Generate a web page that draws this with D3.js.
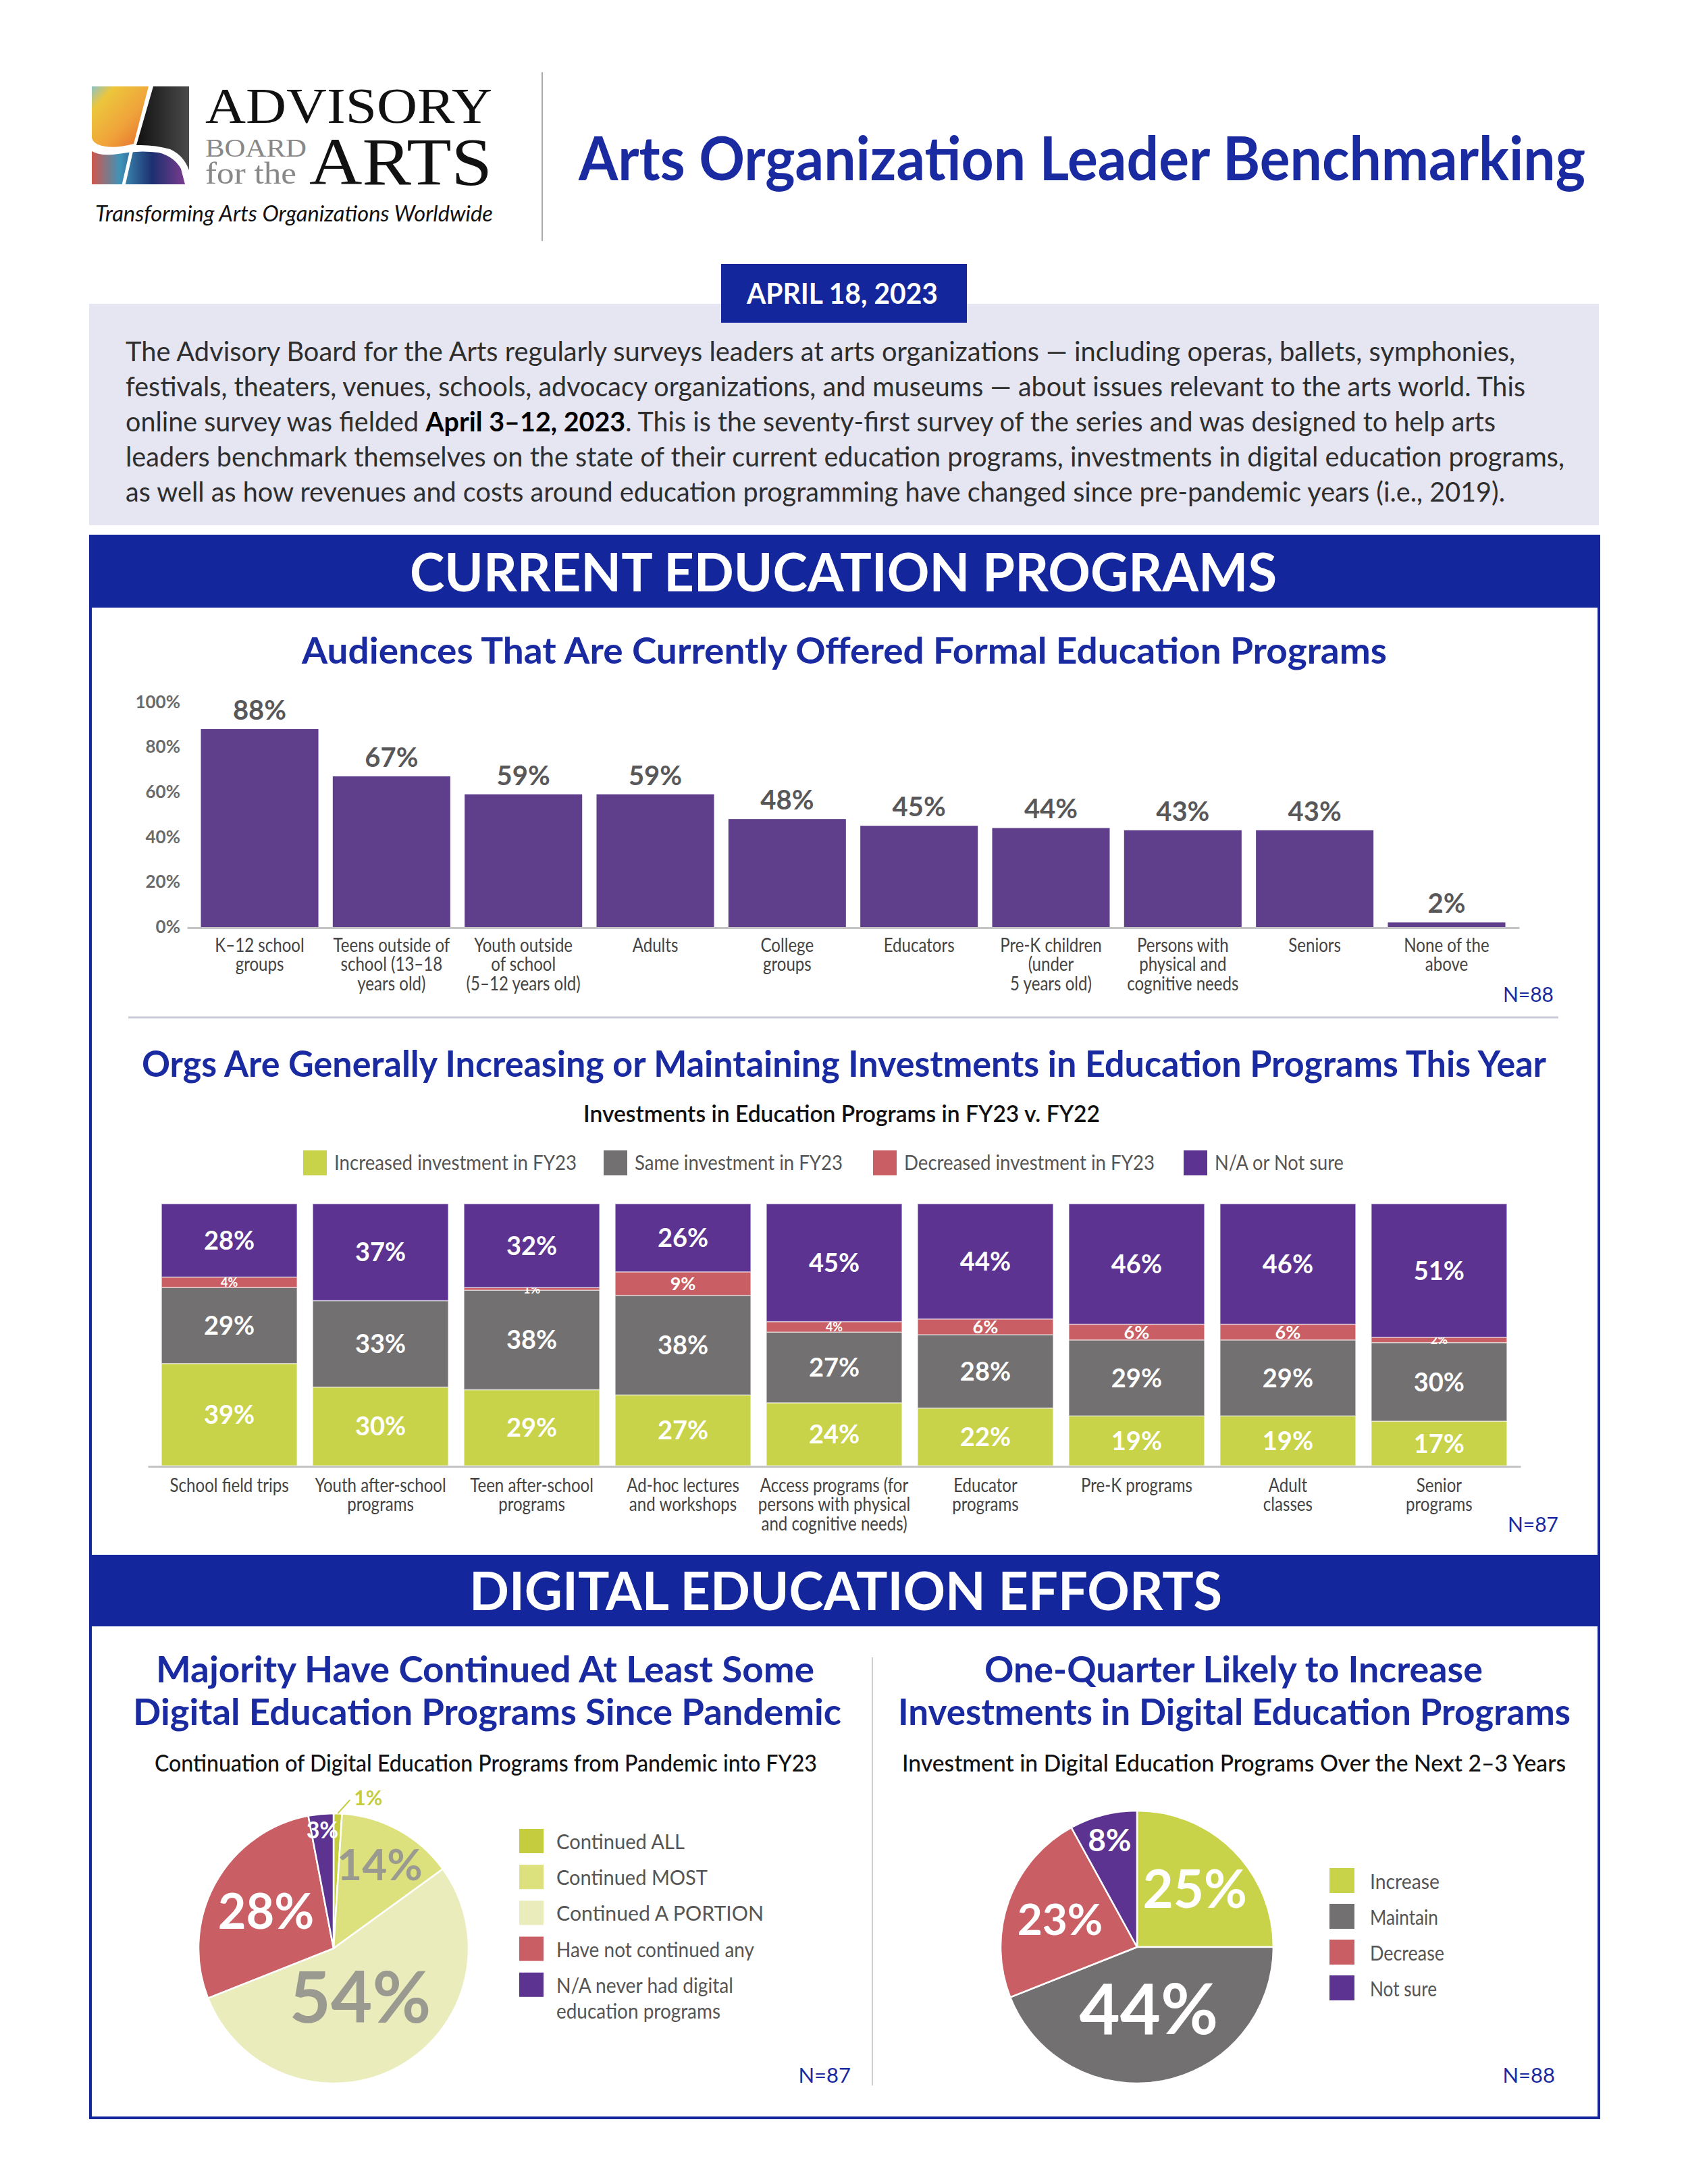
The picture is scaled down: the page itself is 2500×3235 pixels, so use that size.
<!DOCTYPE html>
<html>
<head>
<meta charset="utf-8">
<script src="https://cdn.jsdelivr.net/npm/d3@7"></script>
<style>
  body { margin: 0; background: #fff; }
  svg { display: block; }
  text { font-family: Lato, "Noto Sans", sans-serif; }
</style>
</head>
<body>
<div id="page"></div>
<script>
// ---- data ----
var audienceCats = ["K–12 school\ngroups", "Teens outside of\nschool (13–18\nyears old)", "Youth outside\nof school\n(5–12 years old)", "Adults",
  "College\ngroups", "Educators", "Pre-K children\n(under\n5 years old)", "Persons with\nphysical and\ncognitive needs", "Seniors", "None of the\nabove"]
var audienceVals = [88, 67, 59, 59, 48, 45, 44, 43, 43, 2]
var yTicks = [0, 20, 40, 60, 80, 100]

var investCats = ["School field trips", "Youth after-school\nprograms", "Teen after-school\nprograms", "Ad-hoc lectures\nand workshops",
  "Access programs (for\npersons with physical\nand cognitive needs)", "Educator\nprograms", "Pre-K programs", "Adult\nclasses", "Senior\nprograms"]
var investSeries = ["Increased investment in FY23", "Same investment in FY23", "Decreased investment in FY23", "N/A or Not sure"]
var increased = [39, 30, 29, 27, 24, 22, 19, 19, 17]
var same = [29, 33, 38, 38, 27, 28, 29, 29, 30]
var decreased = [4, 0, 1, 9, 4, 6, 6, 6, 2]
var notSure = [28, 37, 32, 26, 45, 44, 46, 46, 51]

var contLabels = ["Continued ALL", "Continued MOST", "Continued A PORTION", "Have not continued any", "N/A never had digital\neducation programs"]
var contVals = [1, 14, 54, 28, 3]

var futureLabels = ["Increase", "Maintain", "Decrease", "Not sure"]
var futureVals = [25, 44, 23, 8]

var introLines = [
  "The Advisory Board for the Arts regularly surveys leaders at arts organizations — including operas, ballets, symphonies,",
  "festivals, theaters, venues, schools, advocacy organizations, and museums — about issues relevant to the arts world. This",
  "online survey was fielded  **April 3–12, 2023**. This is the seventy-first survey of the series and was designed to help arts",
  "leaders benchmark themselves on the state of their current education programs, investments in digital education programs,",
  "as well as how revenues and costs around education programming have changed since pre-pandemic years (i.e., 2019)."
]

// ---- colours ----
var blue = "#14269c", titleBlue = "#1a2aa0"
var barPurple = "#5f3f8c"
var stackColors = ["#c9d34a", "#737071", "#c95f64", "#5c3390"]
var contColors = ["#c5cc3e", "#dce17e", "#eaecbb", "#c95f64", "#5c3390"]
var futureColors = ["#c9d34a", "#737071", "#c95f64", "#5c3390"]

var W = 2500, H = 3235
var svg = d3.select("#page").append("svg").attr("width", W).attr("height", H)
svg.append("rect").attr("width", W).attr("height", H).attr("fill", "#fff")

// squeeze or stretch a text to the width it has in the picture
function fit(t, w) { return t.attr("textLength", w).attr("lengthAdjust", "spacingAndGlyphs") }

// ---- logo ----
var defs = svg.append("defs")
var gTop = defs.append("linearGradient").attr("id", "paintTop").attr("x1", 0).attr("y1", 0).attr("x2", 1).attr("y2", 1)
gTop.append("stop").attr("offset", "0%").attr("stop-color", "#8cc3c8")
gTop.append("stop").attr("offset", "20%").attr("stop-color", "#ecc63c")
gTop.append("stop").attr("offset", "60%").attr("stop-color", "#f0a23a")
gTop.append("stop").attr("offset", "100%").attr("stop-color", "#e2682e")
var gBot = defs.append("linearGradient").attr("id", "paintBot").attr("x1", 0).attr("y1", 0).attr("x2", 1).attr("y2", 0)
gBot.append("stop").attr("offset", "0%").attr("stop-color", "#d0564c")
gBot.append("stop").attr("offset", "30%").attr("stop-color", "#3f93b8")
gBot.append("stop").attr("offset", "65%").attr("stop-color", "#1c2f70")
gBot.append("stop").attr("offset", "100%").attr("stop-color", "#7a3c8e")
var gBlack = defs.append("linearGradient").attr("id", "blackSide").attr("x1", 0).attr("y1", 0).attr("x2", 1).attr("y2", 0)
gBlack.append("stop").attr("offset", "0%").attr("stop-color", "#111")
gBlack.append("stop").attr("offset", "100%").attr("stop-color", "#4a4a4a")

var logo = svg.append("g")
logo.append("path").attr("d", "M136,128 L220,128 L198,213 Q165,222 145,214 Q137,210 136,204 Z").attr("fill", "url(#paintTop)")
logo.append("path").attr("d", "M227,128 L280,128 L280,252 Q272,230 252,221 Q228,214 202,215 Z").attr("fill", "url(#blackSide)")
logo.append("path").attr("d", "M136,224 Q150,232 175,228 Q205,222 235,226 Q258,232 268,250 L274,273 L136,273 Z").attr("fill", "url(#paintBot)")
logo.append("line").attr("x1", 195).attr("y1", 222).attr("x2", 183).attr("y2", 274).attr("stroke", "#fff").attr("stroke-width", 5)

var serif = "'Liberation Serif', 'DejaVu Serif', serif"
function serifText(x, y, fs, color, s, w) {
  fit(logo.append("text").attr("x", x).attr("y", y).style("font-family", serif).attr("font-size", fs).attr("fill", color).text(s), w)
}
serifText(304, 182, 74, "#111", "ADVISORY", 425)
serifText(304, 232, 37, "#888", "BOARD", 150)
serifText(304, 272, 46, "#888", "for the", 135)
serifText(458, 273, 100, "#111", "ARTS", 271)
fit(logo.append("text").attr("x", 141).attr("y", 328).attr("font-size", 33).attr("font-style", "italic").attr("fill", "#111")
  .text("Transforming Arts Organizations Worldwide"), 589)

svg.append("line").attr("x1", 803).attr("x2", 803).attr("y1", 107).attr("y2", 357).attr("stroke", "#aaa").attr("stroke-width", 2)
fit(svg.append("text").attr("x", 857).attr("y", 267).attr("font-size", 90).attr("font-weight", 700).attr("fill", titleBlue)
  .text("Arts Organization Leader Benchmarking"), 1491)

// ---- intro box ----
svg.append("rect").attr("x", 132).attr("y", 450).attr("width", 2236).attr("height", 328).attr("fill", "#e5e6f2")
svg.append("rect").attr("x", 1068).attr("y", 391).attr("width", 364).attr("height", 87).attr("fill", blue)
fit(svg.append("text").attr("x", 1106).attr("y", 450).attr("font-size", 42).attr("font-weight", 700).attr("fill", "#fff").text("APRIL 18, 2023"), 283)

var introWidths = [2058, 2073, 2029, 2131, 2043]
var intro = svg.append("g").attr("font-size", 40).attr("fill", "#2e2e2e")
introLines.forEach(function (line, i) {
  var t = intro.append("text").attr("x", 186).attr("y", 535 + i * 52)
  line.split("**").forEach(function (seg, j) {
    t.append("tspan").attr("font-weight", j % 2 ? 700 : 400).attr("fill", j % 2 ? "#000" : null).text(seg)
  })
  fit(t, introWidths[i])
})

// ---- frame and section bands ----
svg.append("rect").attr("x", 134).attr("y", 794).attr("width", 2234).attr("height", 2343)
  .attr("fill", "none").attr("stroke", blue).attr("stroke-width", 4)
function band(y, label, x, w) {
  svg.append("rect").attr("x", 132).attr("y", y).attr("width", 2238).attr("height", 106).attr("fill", blue)
  fit(svg.append("text").attr("x", x).attr("y", y + 82).attr("font-size", 78).attr("font-weight", 700).attr("fill", "#fff").text(label), w)
}
band(794, "CURRENT EDUCATION PROGRAMS", 607, 1284)
band(2303, "DIGITAL EDUCATION EFFORTS", 695, 1115)

// multi-line tick labels, a little condensed like the original face
function lineLabels(axisG, firstDy, lh, fs) {
  axisG.selectAll(".tick text").remove()
  axisG.selectAll(".tick").each(function (d) {
    var t = d3.select(this).append("text").attr("text-anchor", "middle").attr("font-size", fs)
      .attr("fill", "#444").attr("font-family", "Lato").attr("transform", "scale(0.86,1)")
    d.split("\n").forEach(function (s, i) {
      t.append("tspan").attr("x", 0).attr("y", firstDy + i * lh).text(s)
    })
  })
}

// ---- chart 1: audiences ----
fit(svg.append("text").attr("x", 447).attr("y", 983).attr("font-size", 54).attr("font-weight", 700).attr("fill", titleBlue)
  .text("Audiences That Are Currently Offered Formal Education Programs"), 1607)

var x1 = d3.scaleBand().domain(audienceCats).range([277, 2250]).paddingInner(0.109).paddingOuter(0.105)
var y1 = d3.scaleLinear().domain([0, 100]).range([1373, 1040])
var c1 = svg.append("g")

c1.selectAll("rect.bar").data(audienceVals).join("rect").attr("class", "bar")
  .attr("x", function (d, i) { return x1(audienceCats[i]) })
  .attr("width", x1.bandwidth())
  .attr("y", function (d) { return y1(d) })
  .attr("height", function (d) { return y1(0) - y1(d) })
  .attr("fill", barPurple)

c1.selectAll("text.val").data(audienceVals).join("text").attr("class", "val")
  .attr("x", function (d, i) { return x1(audienceCats[i]) + x1.bandwidth() / 2 })
  .attr("y", function (d) { return y1(d) - 14 })
  .attr("text-anchor", "middle").attr("font-size", 40).attr("font-weight", 700).attr("fill", "#58585b")
  .text(function (d) { return d + "%" })

var ya = c1.append("g").attr("transform", "translate(267,0)")
  .call(d3.axisLeft(y1).tickValues(yTicks).tickFormat(function (d) { return d + "%" }).tickSize(0).tickPadding(0))
ya.select(".domain").remove()
ya.selectAll("text").attr("font-size", 26).attr("font-weight", 700).attr("fill", "#6a6a6a").attr("font-family", "Lato")

var xa = c1.append("g").attr("transform", "translate(0,1374)")
  .call(d3.axisBottom(x1).tickSize(0).tickSizeOuter(0))
xa.select(".domain").attr("stroke", "#c4c4c4").attr("stroke-width", 3)
lineLabels(xa, 36, 28.5, 28)

svg.append("text").attr("x", 2301).attr("y", 1484).attr("text-anchor", "end").attr("font-size", 30).attr("fill", titleBlue).text("N=88")
svg.append("line").attr("x1", 190).attr("x2", 2308).attr("y1", 1507).attr("y2", 1507).attr("stroke", "#c9cbd9").attr("stroke-width", 3)

// ---- chart 2: investments stacked ----
fit(svg.append("text").attr("x", 210).attr("y", 1595).attr("font-size", 54).attr("font-weight", 700).attr("fill", titleBlue)
  .text("Orgs Are Generally Increasing or Maintaining Investments in Education Programs This Year"), 2080)
fit(svg.append("text").attr("x", 864).attr("y", 1662).attr("font-size", 34).attr("font-weight", 600).attr("fill", "#111")
  .text("Investments in Education Programs in FY23 v. FY22"), 765)

var legX = [449, 894, 1293, 1753], legW = [359, 308, 371, 191]
var leg = svg.append("g")
investSeries.forEach(function (s, i) {
  leg.append("rect").attr("x", legX[i]).attr("y", 1704).attr("width", 35).attr("height", 37).attr("fill", stackColors[i])
  fit(leg.append("text").attr("x", legX[i] + 46).attr("y", 1733).attr("font-size", 31).attr("fill", "#555").text(s), legW[i])
})

var keys = ["inc", "same", "dec", "na"]
var stackRows = investCats.map(function (c, i) {
  return { cat: c, inc: increased[i], same: same[i], dec: decreased[i], na: notSure[i] }
})
var series = d3.stack().keys(keys)(stackRows)
var x2 = d3.scaleBand().domain(investCats).range([219, 2252]).paddingInner(0.103).paddingOuter(0.09)
var y2 = d3.scaleLinear().domain([0, 100]).range([2171, 1783])
var c2 = svg.append("g")

var layers = c2.selectAll("g.layer").data(series).join("g").attr("class", "layer")
  .attr("fill", function (d, i) { return stackColors[i] })
layers.selectAll("rect").data(function (d) { return d }).join("rect")
  .attr("x", function (d) { return x2(d.data.cat) })
  .attr("width", x2.bandwidth())
  .attr("y", function (d) { return y2(d[1]) })
  .attr("height", function (d) { return y2(d[0]) - y2(d[1]) })
  .attr("stroke", "#fff").attr("stroke-width", 1.5).attr("stroke-opacity", 0.55)

layers.selectAll("text").data(function (d) { return d.filter(function (p) { return p[1] - p[0] > 0 }) }).join("text")
  .attr("x", function (d) { return x2(d.data.cat) + x2.bandwidth() / 2 })
  .attr("y", function (d) { return y2((d[0] + d[1]) / 2) })
  .attr("dy", "0.36em")
  .attr("text-anchor", "middle").attr("font-weight", 700).attr("fill", "#fff")
  .attr("font-size", function (d) { var v = d[1] - d[0]; return v >= 10 ? 38 : v >= 5 ? 27 : 18 })
  .text(function (d) { return (d[1] - d[0]) + "%" })

var xa2 = c2.append("g").attr("transform", "translate(0,2172)")
  .call(d3.axisBottom(x2).tickSize(0).tickSizeOuter(0))
xa2.select(".domain").attr("stroke", "#c4c4c4").attr("stroke-width", 3)
lineLabels(xa2, 38, 28.5, 28)

svg.append("text").attr("x", 2308).attr("y", 2269).attr("text-anchor", "end").attr("font-size", 30).attr("fill", titleBlue).text("N=87")

// ---- digital section ----
svg.append("line").attr("x1", 1292).attr("x2", 1292).attr("y1", 2455).attr("y2", 3089).attr("stroke", "#cfcfcf").attr("stroke-width", 2)

function heading(x, y, s, w, fs, weight, color) {
  fit(svg.append("text").attr("x", x).attr("y", y).attr("font-size", fs).attr("font-weight", weight).attr("fill", color).text(s), w)
}
heading(231, 2492, "Majority Have Continued At Least Some", 975, 54, 700, titleBlue)
heading(197, 2555, "Digital Education Programs Since Pandemic", 1049, 54, 700, titleBlue)
heading(229, 2624, "Continuation of Digital Education Programs from Pandemic into FY23", 981, 34, 500, "#111")
heading(1458, 2492, "One-Quarter Likely to Increase", 738, 54, 700, titleBlue)
heading(1330, 2555, "Investments in Digital Education Programs", 996, 54, 700, titleBlue)
heading(1336, 2624, "Investment in Digital Education Programs Over the Next 2–3 Years", 983, 34, 500, "#111")

var pie = d3.pie().sort(null).value(function (d) { return d })

function drawPie(cx, cy, r, vals, colors, labelStyle) {
  var g = svg.append("g").attr("transform", "translate(" + cx + "," + cy + ")")
  var arcs = pie(vals)
  var arc = d3.arc().innerRadius(0).outerRadius(r)
  g.selectAll("path").data(arcs).join("path").attr("d", arc)
    .attr("fill", function (d, i) { return colors[i] })
    .attr("stroke", "#fff").attr("stroke-width", 2.5)
  arcs.forEach(function (a, i) {
    var st = labelStyle[i]
    var mid = (a.startAngle + a.endAngle) / 2
    if (st.out) {
      var ex = Math.sin(mid) * r, ey = -Math.cos(mid) * r
      g.append("line").attr("x1", ex).attr("y1", ey).attr("x2", ex + 18).attr("y2", ey - 20)
        .attr("stroke", colors[i]).attr("stroke-width", 2)
      g.append("text").attr("x", ex + 24).attr("y", ey - 12).attr("font-size", st.fs).attr("font-weight", 700)
        .attr("fill", colors[i]).text(a.data + "%")
      return
    }
    var lr = r * st.rf
    g.append("text").attr("x", Math.sin(mid) * lr).attr("y", -Math.cos(mid) * lr).attr("dy", "0.36em")
      .attr("text-anchor", "middle").attr("font-size", st.fs).attr("font-weight", 700).attr("fill", st.color)
      .text(a.data + "%")
  })
}

drawPie(494, 2886, 200, contVals, contColors, [
  { out: true, fs: 30 },
  { rf: 0.71, fs: 64, color: "#9a9a90" },
  { rf: 0.41, fs: 106, color: "#9a9a90" },
  { rf: 0.57, fs: 72, color: "#fff" },
  { rf: 0.88, fs: 34, color: "#fff" }
])
drawPie(1684, 2884, 202, futureVals, futureColors, [
  { rf: 0.6, fs: 78, color: "#fff" },
  { rf: 0.46, fs: 104, color: "#fff" },
  { rf: 0.6, fs: 64, color: "#fff" },
  { rf: 0.81, fs: 46, color: "#fff" }
])

// pie legends
var contW = [[190], [224], [307], [293], [262, 243]]
contLabels.forEach(function (s, i) {
  var y = 2709 + i * 53.2
  svg.append("rect").attr("x", 769).attr("y", y).attr("width", 36).attr("height", 36).attr("fill", contColors[i])
  s.split("\n").forEach(function (line, j) {
    fit(svg.append("text").attr("x", 824).attr("y", y + 30 + j * 38).attr("font-size", 31).attr("fill", "#555").text(line), contW[i][j])
  })
})
var futW = [103, 101, 110, 99]
futureLabels.forEach(function (s, i) {
  var y = 2767 + i * 53
  svg.append("rect").attr("x", 1969).attr("y", y).attr("width", 37).attr("height", 37).attr("fill", futureColors[i])
  fit(svg.append("text").attr("x", 2029).attr("y", y + 31).attr("font-size", 31).attr("fill", "#555").text(s), futW[i])
})

svg.append("text").attr("x", 1260).attr("y", 3085).attr("text-anchor", "end").attr("font-size", 31).attr("fill", titleBlue).text("N=87")
svg.append("text").attr("x", 2303).attr("y", 3085).attr("text-anchor", "end").attr("font-size", 31).attr("fill", titleBlue).text("N=88")
</script>
</body>
</html>
